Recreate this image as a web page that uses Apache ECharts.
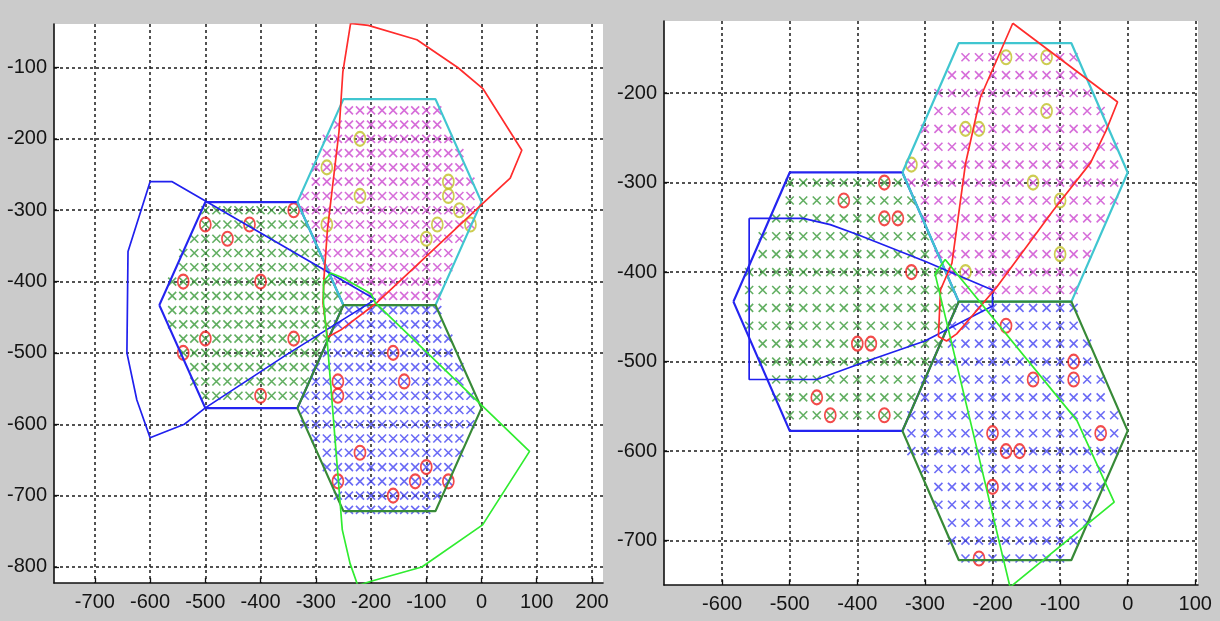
<!DOCTYPE html>
<html>
<head>
<meta charset="utf-8">
<script src="https://cdn.jsdelivr.net/npm/echarts@6/dist/echarts.min.js"></script>
<style>
  html, body { margin: 0; padding: 0; background: #cbcbcb; }
  #chart { width: 1220px; height: 621px; }
</style>
</head>
<body>
<div id="chart"></div>
<script>
// ---- sector cells (regular hexagons around the site at (-250,-433)) ----
const cellWest  = [[-583.3,-433],[-500,-288.7],[-333.3,-288.7],[-250,-433],[-333.3,-577.4],[-500,-577.4],[-583.3,-433]];
const cellNorth = [[-333.3,-288.7],[-250,-144.3],[-83.3,-144.3],[0,-288.7],[-83.3,-433],[-250,-433],[-333.3,-288.7]];
const cellSouth = [[-333.3,-577.4],[-250,-433],[-83.3,-433],[0,-577.4],[-83.3,-721.7],[-250,-721.7],[-333.3,-577.4]];

// ---- measurement grid rows: [y, first x, last x], points every 20 m ----
const GRID_STEP = 20;
const rowsWest = [
  [-300,-500,-340],[-320,-500,-320],[-340,-520,-320],[-360,-540,-300],[-380,-540,-300],
  [-400,-560,-280],[-420,-560,-260],[-440,-560,-260],[-460,-560,-280],[-480,-540,-280],
  [-500,-540,-300],[-520,-520,-320],[-540,-520,-320],[-560,-500,-340]
];
const rowsNorth = [
  [-160,-240,-80],[-180,-260,-80],[-200,-280,-60],[-220,-280,-40],[-240,-300,-40],
  [-260,-300,-20],[-280,-320,-20],[-300,-320,-20],[-320,-300,-20],[-340,-300,-40],
  [-360,-280,-60],[-380,-280,-60],[-400,-260,-80],[-420,-240,-80]
];
const rowsSouth = [
  [-440,-240,-80],[-460,-260,-80],[-480,-260,-60],[-500,-280,-60],[-520,-300,-40],
  [-540,-300,-40],[-560,-320,-20],[-580,-320,-20],[-600,-320,-20],[-620,-300,-40],
  [-640,-280,-40],[-660,-280,-60],[-680,-260,-60],[-700,-260,-80],[-720,-240,-100]
];

// ---- left plot: selected points and estimated coverage outlines ----
const redPtsA = [[-500,-320],[-420,-320],[-460,-340],[-340,-300],[-540,-400],[-400,-400],[-500,-480],[-340,-480],[-540,-500],[-400,-560],
                 [-160,-500],[-140,-540],[-260,-540],[-260,-560],[-220,-640],[-100,-660],[-120,-680],[-60,-680],[-260,-680],[-160,-700]];
const yellowPtsA = [[-220,-200],[-280,-240],[-220,-280],[-280,-320],[-60,-260],[-60,-280],[-40,-300],[-80,-320],[-20,-320],[-100,-340]];
const blueAreaA = [[-600,-260],[-560,-260],[-192,-425],[-350,-501],[-500,-577],[-538,-600],[-600,-619],[-624,-566],[-642,-500],[-640,-358],[-600,-260]];
const redAreaA = [[-237,-38],[-205,-41],[-117,-61],[-43,-100],[3,-130],[73,-216],[52,-255],[0,-292],[-190,-430],[-255,-468],[-279,-478],
                  [-287,-430],[-285,-393],[-279,-328],[-258,-190],[-251,-106],[-237,-38]];
const greenAreaA = [[-286,-400],[-273,-388],[-250,-395],[-237,-401],[-200,-417],[-192,-430],[87,-638],[2,-741],[-108,-800],[-200,-820],
                    [-224,-826],[-238,-795],[-252,-748],[-280,-477],[-286,-430],[-286,-400]];

// ---- right plot ----
const redPtsB = [[-360,-300],[-420,-320],[-360,-340],[-340,-340],[-320,-400],[-400,-480],[-380,-480],[-460,-540],[-440,-560],[-360,-560],
                 [-180,-460],[-80,-500],[-80,-520],[-140,-520],[-200,-580],[-40,-580],[-180,-600],[-160,-600],[-200,-640],[-220,-720]];
const yellowPtsB = [[-180,-160],[-120,-160],[-120,-220],[-240,-240],[-220,-240],[-320,-280],[-140,-300],[-100,-320],[-100,-380],[-240,-400]];
const blueAreaB = [[-560,-340],[-480,-340],[-440,-347],[-400,-358],[-300,-388],[-200,-420],[-200,-438],[-300,-477],[-380,-498],[-460,-520],[-560,-520],[-560,-340]];
const redAreaB = [[-170,-122],[-15,-210],[-32,-242],[-55,-278],[-110,-331],[-195,-418],[-253,-469],[-268,-477],[-280,-472],[-277,-420],
                  [-260,-390],[-240,-279],[-218,-205],[-170,-122]];
const greenAreaB = [[-270,-386],[-75,-566],[-20,-657],[-174,-752],[-285,-402],[-270,-386]];

// ---- axis ticks ----
const xTicksA = [-700,-600,-500,-400,-300,-200,-100,0,100,200];
const yTicksA = [-800,-700,-600,-500,-400,-300,-200,-100];
const xTicksB = [-600,-500,-400,-300,-200,-100,0,100];
const yTicksB = [-700,-600,-500,-400,-300,-200];

function expandRows(rows) {
  const pts = [];
  rows.forEach(([y, x0, x1]) => { for (let x = x0; x <= x1; x += GRID_STEP) pts.push([x, y]); });
  return pts;
}

const FONT = "'Liberation Sans Narrow', 'Arial Narrow', 'Liberation Sans', sans-serif";
const CROSS = 'path://M0,0L10,10M10,0L0,10';

function xAxis(idx, min, max, ticks) {
  return {
    gridIndex: idx, type: 'value', min, max,
    axisLine: { show: true, onZero: false, lineStyle: { color: '#111', width: 1.6 } },
    axisTick: { show: true, inside: true, length: 5, customValues: ticks, lineStyle: { color: '#111', width: 1.3 } },
    axisLabel: { customValues: ticks, color: '#141414', fontFamily: FONT, fontSize: 20, margin: 9 },
    splitLine: { show: true, lineStyle: { color: '#1a1a1a', width: 1.5, type: [3, 3] } }
  };
}
function yAxis(idx, min, max, ticks) {
  return {
    gridIndex: idx, type: 'value', min, max,
    axisLine: { show: true, onZero: false, lineStyle: { color: '#111', width: 1.6 } },
    axisTick: { show: true, inside: true, length: 5, customValues: ticks, lineStyle: { color: '#111', width: 1.3 } },
    axisLabel: { customValues: ticks, color: '#141414', fontFamily: FONT, fontSize: 20, margin: 7 },
    splitLine: { show: true, lineStyle: { color: '#1a1a1a', width: 1.5, type: [3, 3] } }
  };
}

function crosses(idx, rows, color) {
  return { type: 'scatter', xAxisIndex: idx, yAxisIndex: idx, data: expandRows(rows), symbol: CROSS, symbolSize: [8, 8],
           itemStyle: { color: 'rgba(0,0,0,0)', borderColor: color, borderWidth: 1.6 }, silent: true, z: 2 };
}
function rings(idx, pts, color) {
  return { type: 'scatter', xAxisIndex: idx, yAxisIndex: idx, data: pts, symbol: 'circle', symbolSize: [11, 14],
           itemStyle: { color: 'rgba(0,0,0,0)', borderColor: color, borderWidth: 1.9 }, silent: true, z: 3 };
}
function outline(idx, pts, color, width, z) {
  return { type: 'line', xAxisIndex: idx, yAxisIndex: idx, data: pts, showSymbol: false, symbol: 'none', clip: true,
           lineStyle: { color, width }, silent: true, z };
}

function panel(idx, red, yellow, blueArea, redArea, greenArea) {
  return [
    crosses(idx, rowsWest, '#3a9a3a'),
    crosses(idx, rowsNorth, '#cc48d0'),
    crosses(idx, rowsSouth, '#4545f2'),
    rings(idx, red, '#f01e1e'),
    rings(idx, yellow, '#c0c026'),
    outline(idx, cellWest, '#2424f0', 2.2, 4),
    outline(idx, cellNorth, '#40c6d0', 2.2, 4),
    outline(idx, cellSouth, '#378a37', 2.2, 4),
    outline(idx, blueArea, '#2020ee', 1.7, 5),
    outline(idx, redArea, '#ff2c2c', 1.7, 5),
    outline(idx, greenArea, '#30ec30', 1.7, 5)
  ];
}

const chart = echarts.init(document.getElementById('chart'), null, { renderer: 'canvas' });
chart.setOption({
  animation: false,
  backgroundColor: '#cbcbcb',
  grid: [
    { left: 54, top: 24, width: 549, height: 559, show: true, backgroundColor: '#ffffff', borderWidth: 0 },
    { left: 664, top: 21, width: 534, height: 564, show: true, backgroundColor: '#ffffff', borderWidth: 0 }
  ],
  xAxis: [xAxis(0, -774, 220, xTicksA), xAxis(1, -686, 104, xTicksB)],
  yAxis: [yAxis(0, -822.5, -39, yTicksA), yAxis(1, -749.6, -119.5, yTicksB)],
  series: [
    ...panel(0, redPtsA, yellowPtsA, blueAreaA, redAreaA, greenAreaA),
    ...panel(1, redPtsB, yellowPtsB, blueAreaB, redAreaB, greenAreaB)
  ]
});
</script>
</body>
</html>
